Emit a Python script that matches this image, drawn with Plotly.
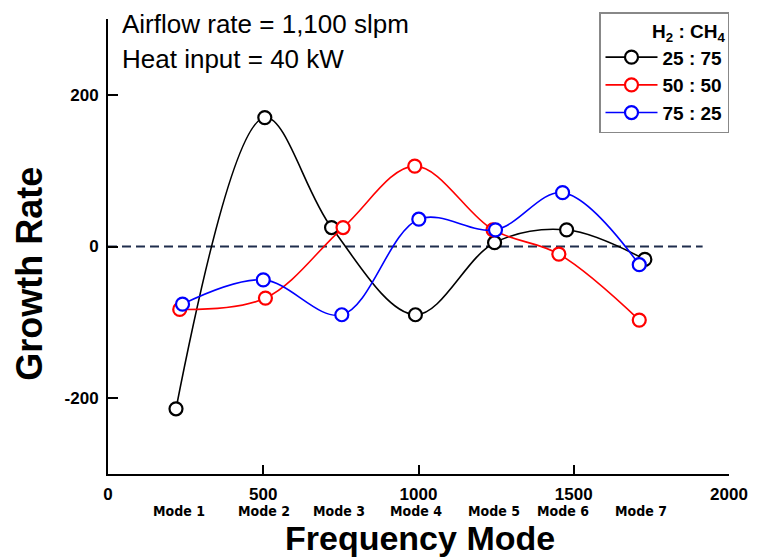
import plotly.graph_objects as go

modes = ["Mode 1", "Mode 2", "Mode 3", "Mode 4", "Mode 5", "Mode 6", "Mode 7"]

x_25_75 = [219, 505, 720, 990, 1245, 1477, 1729]
y_25_75 = [-214, 170, 25, -90, 5, 22, -17]

x_50_50 = [231, 507, 757, 988, 1240, 1452, 1711]
y_50_50 = [-83, -68, 25, 106, 22, -10, -97]

x_75_25 = [240, 500, 753, 1001, 1248, 1464, 1711]
y_75_25 = [-76, -44, -90, 36, 22, 71, -24]

x_ticks = [0, 500, 1000, 1500, 2000]
y_ticks = [-200, 0, 200]

series = [
    ("25 : 75", x_25_75, y_25_75, "black"),
    ("50 : 50", x_50_50, y_50_50, "red"),
    ("75 : 25", x_75_25, y_75_25, "blue"),
]

ARIAL = "Liberation Sans, Arial"

fig = go.Figure()

# zero reference line
fig.add_trace(go.Scatter(x=[0, 1915], y=[0, 0], mode="lines",
                         line=dict(color="#1f2d4d", width=2, dash="9px,5px"),
                         showlegend=False, hoverinfo="skip"))

for name, xs, ys, col in series:
    fig.add_trace(go.Scatter(
        x=xs, y=ys, name="<b>" + name + "</b>", mode="lines+markers",
        line=dict(color=col, width=1.6, shape="spline", smoothing=1.0),
        marker=dict(symbol="circle", size=13, color="white",
                    line=dict(color=col, width=2.2)),
    ))

tick_font = dict(family=ARIAL, size=17, color="black")

fig.update_xaxes(range=[0, 2000], tickvals=x_ticks,
                 ticktext=["<b>%d</b>" % v for v in x_ticks],
                 ticks="inside", ticklen=9, tickwidth=2, tickcolor="black",
                 showline=True, linecolor="black", linewidth=2,
                 showgrid=False, zeroline=False, tickfont=tick_font,
                 ticklabelstandoff=4)
fig.update_yaxes(range=[-300, 300], tickvals=y_ticks,
                 ticktext=["<b>%d</b>" % v for v in y_ticks],
                 ticks="inside", ticklen=10, tickwidth=2, tickcolor="black",
                 showline=True, linecolor="black", linewidth=2,
                 showgrid=False, zeroline=False, tickfont=tick_font,
                 ticklabelstandoff=4)

W, H = 760, 558
L, R, T, B = 108, 23, 13, 84
ph = H - T - B
pw = W - L - R

def py(pix):  # pixel row -> paper y
    return (H - B - pix) / ph

def px(pix):  # pixel column -> paper x
    return (pix - L) / pw

# mode labels beneath the tick labels, centred on the mean frequency of each mode
for i, m in enumerate(modes):
    xc = (x_25_75[i] + x_50_50[i] + x_75_25[i]) / 3
    fig.add_annotation(x=xc, xref="x", y=py(511), yref="paper", yanchor="middle",
                       text="<b>" + m + "</b>", showarrow=False,
                       font=dict(family="DejaVu Sans Condensed, Liberation Sans, Arial", size=14, color="black"))

# axis titles
fig.add_annotation(x=px(424), xref="paper", y=py(539), yref="paper",
                   text="<b>Frequency Mode</b>", showarrow=False,
                   xanchor="center", yanchor="middle",
                   font=dict(family=ARIAL, size=34, color="black"))
fig.add_annotation(x=px(29), xref="paper", y=py(271), yref="paper",
                   text="<b>Growth Rate</b>", showarrow=False, textangle=-90,
                   xanchor="center", yanchor="middle",
                   font=dict(family=ARIAL, size=36, color="black"))

# condition texts
fig.add_annotation(x=px(120), xref="paper", y=py(18), yref="paper", text="Airflow rate = 1,100 slpm",
                   showarrow=False, xanchor="left", yanchor="middle",
                   font=dict(family=ARIAL, size=26, color="black"))
fig.add_annotation(x=px(120), xref="paper", y=py(54), yref="paper", text="Heat input = 40 kW",
                   showarrow=False, xanchor="left", yanchor="middle",
                   font=dict(family=ARIAL, size=26, color="black"))

fig.update_layout(
    width=W, height=H,
    margin=dict(l=L, r=R, t=T, b=B),
    plot_bgcolor="white", paper_bgcolor="white",
    legend=dict(x=1.0, xanchor="right", y=py(6), yanchor="top",
                bgcolor="white", bordercolor="#888888", borderwidth=1.5,
                font=dict(family=ARIAL, size=19, color="black"),
                title=dict(text="<b>H<sub>2</sub> : CH<sub>4</sub></b>", side="top right",
                           font=dict(family=ARIAL, size=19, color="black")),
                tracegroupgap=0, itemwidth=52),
    showlegend=True,
)

fig.write_html("out.html")
